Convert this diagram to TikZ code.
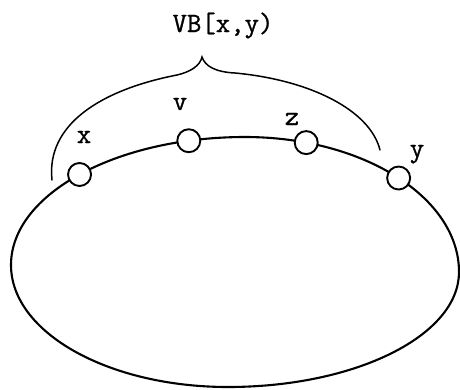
\documentclass[tikz,border=0pt]{standalone}
\usepackage{fontspec}
\newfontfamily\twfont{Latin Modern Mono}[UprightFeatures={FakeBold=1.0}]
\begin{document}
\begin{tikzpicture}[x=1pt,y=-1pt,
  vertex/.style={circle,draw,fill=white,minimum size=23pt,inner sep=0pt,line width=1.9pt},
  lbl/.style={font=\fontsize{28}{30}\selectfont\twfont,inner sep=0pt,anchor=base},
  curve/.style={line width=2.1pt,line join=round},
  bracestyle/.style={line width=1.5pt,line cap=round}]
\useasboundingbox (0,0) rectangle (460,389);
% extreme points of the closed curve
\coordinate (cl) at (11,265);
\coordinate (ct) at (245,137);
\coordinate (cr) at (459,272);
\coordinate (cb) at (228,387);
\draw[curve] (cl) .. controls (11,194.3) and (115.8,137) .. node[vertex,pos=0.5] (x) {} node[vertex,pos=0.85] (v) {} (ct)
  .. controls (363.2,137) and (459,197.4) .. node[vertex,pos=0.18] (z) {} node[vertex,pos=0.51] (y) {} (cr)
  .. controls (459,335.5) and (355.6,387) .. (cb)
  .. controls (108.1,387) and (11,332.4) .. (cl) -- cycle;
% labels
\node[lbl] (lx) at (84,143) {x};
\node[lbl] (lv) at (180,110) {v};
\node[lbl] (lz) at (292,125) {z};
\node[lbl] (ly) at (417,157) {y};
\node[lbl] (lvb) at (223,32) {VB[x,y)};
% brace
\coordinate (bl) at (52,180);
\coordinate (bt) at (202,57);
\coordinate (br) at (380,150);
\draw[bracestyle] (bl) .. controls (46,125) and (100,90) .. (177,75)
  .. controls (190,72) and (200,66) .. (bt)
  .. controls (205,66) and (215,72) .. (235,73)
  .. controls (310,80) and (370,110) .. (br);
\end{tikzpicture}
\end{document}
